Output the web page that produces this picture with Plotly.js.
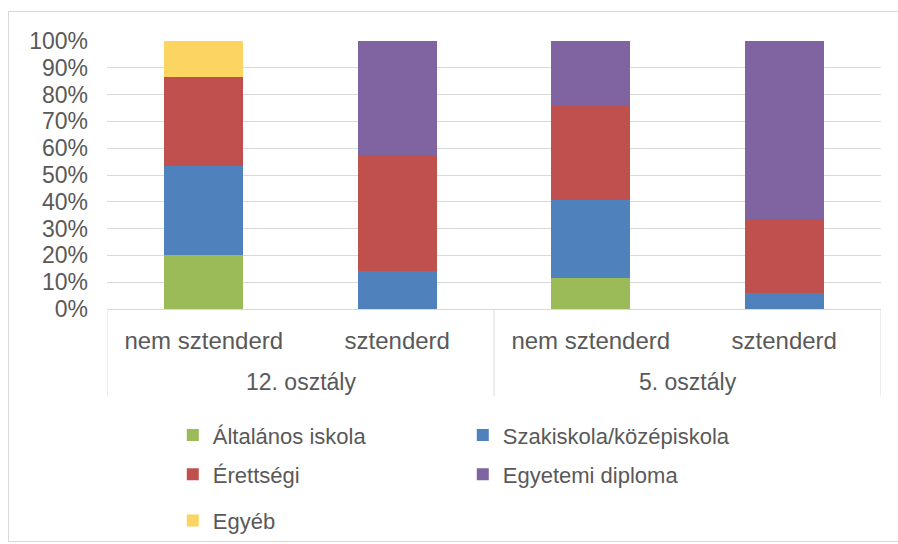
<!DOCTYPE html>
<html>
<head>
<meta charset="utf-8">
<script src="https://cdn.plot.ly/plotly-3.0.1.min.js"></script>
<style>
  html, body { margin: 0; padding: 0; background: #ffffff; overflow: hidden; }
  #frame { position: absolute; left: 8px; top: 11px; width: 900px; height: 531px; border: 1px solid #d9d9d9; border-right: none; box-sizing: border-box; }
  #chart { position: absolute; left: 0; top: 0; width: 898px; height: 544px; }
</style>
</head>
<body>
<div id="frame"></div>
<div id="chart"></div>
<script>
// Data (shares, 0-1)
const groups = ["12. osztály", "12. osztály", "5. osztály", "5. osztály"];
const categories = ["nem sztenderd", "sztenderd", "nem sztenderd", "sztenderd"];

const seriesNames = ["Általános iskola", "Szakiskola/középiskola", "Érettségi", "Egyetemi diploma", "Egyéb"];
const altalanos = [0.20, 0.00, 0.115, 0.00];
const szakiskola = [0.335, 0.14, 0.29, 0.06];
const erettsegi = [0.33, 0.435, 0.355, 0.275];
const egyetemi = [0.00, 0.425, 0.24, 0.665];
const egyeb = [0.135, 0.00, 0.00, 0.00];

const yTickVals = [0, 0.1, 0.2, 0.3, 0.4, 0.5, 0.6, 0.7, 0.8, 0.9, 1.0];
const yTickText = ["0%", "10%", "20%", "30%", "40%", "50%", "60%", "70%", "80%", "90%", "100%"];

const colors = ["#9bbb59", "#4f81bd", "#c0504d", "#8064a2", "#fcd462"];
const values = [altalanos, szakiskola, erettsegi, egyetemi, egyeb];
const legendRow = ["legend", "legend", "legend2", "legend2", "legend3"];

const textColor = "#595959";
const lineColor = "#d9d9d9";
const fontFamily = "Liberation Sans, Arial, sans-serif";

// category positions along the axis (one slot per category index)
const xPos = categories.map((c, i) => i);

const traces = seriesNames.map((name, i) => ({
  type: "bar",
  name: name,
  x: xPos,
  y: values[i],
  legend: legendRow[i],
  marker: { color: colors[i], line: { width: 0 } },
  hoverinfo: "name+y"
}));

// group labels and group dividers below the category labels
const groupNames = [];
const groupCenters = [];
const groupEdges = [-0.5];
groups.forEach((g, i) => {
  if (i === groups.length - 1 || groups[i + 1] !== g) {
    const start = groups.indexOf(g);
    groupNames.push(g);
    groupCenters.push((start + i) / 2);
    groupEdges.push(i + 0.5);
  }
});

const annotations = groupNames.map((g, k) => ({
  text: g,
  xref: "x",
  yref: "paper",
  x: groupCenters[k],
  y: -0.272,
  xanchor: "center",
  yanchor: "middle",
  showarrow: false,
  font: { family: fontFamily, size: 23, color: textColor }
}));

const shapes = groupEdges.map(e => ({
  type: "line",
  xref: "x",
  yref: "paper",
  x0: e, x1: e,
  y0: 0, y1: -0.325,
  line: { color: lineColor, width: 1 }
}));

const legendBase = {
  orientation: "h",
  traceorder: "normal",
  x: 0.085,
  xanchor: "left",
  yref: "container",
  yanchor: "middle",
  entrywidth: 245,
  entrywidthmode: "pixels",
  font: { family: fontFamily, size: 22, color: textColor },
  bgcolor: "rgba(0,0,0,0)"
};

const layout = {
  width: 898,
  height: 544,
  margin: { l: 107, r: 17, t: 41, b: 235 },
  paper_bgcolor: "rgba(0,0,0,0)",
  plot_bgcolor: "rgba(0,0,0,0)",
  barmode: "stack",
  bargap: 0.59,
  font: { family: fontFamily, size: 22, color: textColor },
  xaxis: {
    range: [-0.5, categories.length - 0.5],
    tickvals: xPos,
    ticktext: categories,
    showline: true,
    linecolor: lineColor,
    linewidth: 1,
    showgrid: false,
    zeroline: false,
    ticks: "",
    ticklabelstandoff: 10,
    tickfont: { family: fontFamily, size: 24, color: textColor }
  },
  yaxis: {
    range: [0, 1],
    tickvals: yTickVals,
    ticktext: yTickText,
    showgrid: true,
    gridcolor: lineColor,
    gridwidth: 1,
    zeroline: false,
    showline: false,
    ticks: "",
    ticklabelstandoff: 18,
    tickfont: { family: fontFamily, size: 23, color: textColor }
  },
  legend: Object.assign({}, legendBase, { y: 0.200 }),
  legend2: Object.assign({}, legendBase, { y: 0.128 }),
  legend3: Object.assign({}, legendBase, { y: 0.043 }),
  annotations: annotations,
  shapes: shapes,
  showlegend: true
};

Plotly.newPlot("chart", traces, layout, { displayModeBar: false, staticPlot: true });
</script>
</body>
</html>
